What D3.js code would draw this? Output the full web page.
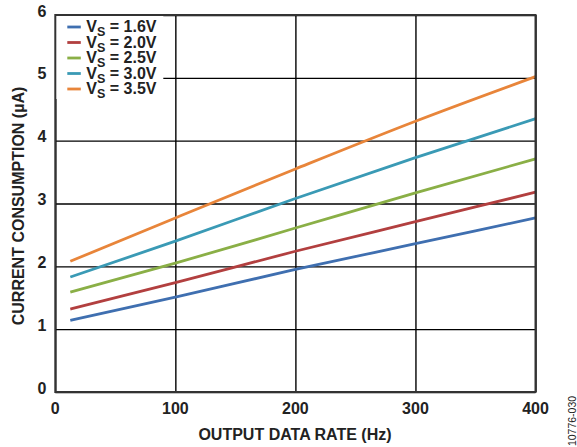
<!DOCTYPE html>
<html>
<head>
<meta charset="utf-8">
<script src="https://cdn.jsdelivr.net/npm/d3@7"></script>
<style>
  body { margin: 0; background: #fff; }
  text { font-family: "Liberation Sans", Arial, sans-serif; }
</style>
</head>
<body>
<svg width="577" height="447"></svg>
<script>
// Output data rate (Hz) sample points
var rates = [12.5, 100, 200, 300, 400];

// Current consumption (uA) per supply voltage
var vs16 = [1.14, 1.51, 1.95, 2.36, 2.77];
var vs20 = [1.32, 1.74, 2.24, 2.71, 3.18];
var vs25 = [1.59, 2.05, 2.61, 3.17, 3.71];
var vs30 = [1.83, 2.40, 3.08, 3.73, 4.35];
var vs35 = [2.08, 2.77, 3.55, 4.31, 5.02];

var seriesNames = ['1.6V', '2.0V', '2.5V', '3.0V', '3.5V'];
var seriesValues = [vs16, vs20, vs25, vs30, vs35];
var colors = ['#3f6fb0', '#b23f3f', '#8aaf46', '#3a9ab5', '#e8853a'];

var xTicks = [0, 100, 200, 300, 400];
var yTicks = [0, 1, 2, 3, 4, 5, 6];

var svg = d3.select('svg');
var padding = {t: 15, r: 41.5, b: 55, l: 55.3};
var chartWidth = 577 - padding.l - padding.r;
var chartHeight = 447 - padding.t - padding.b;

var xScale = d3.scaleLinear().domain([0, 400]).range([0, chartWidth]);
var yScale = d3.scaleLinear().domain([0, 6]).range([chartHeight, 0]);

var chartG = svg.append('g')
    .attr('transform', 'translate(' + [padding.l, padding.t] + ')');

// gridlines
chartG.append('g')
    .call(d3.axisBottom(xScale).tickValues(xTicks).tickSize(chartHeight).tickFormat(''))
    .call(function(g) {
        g.select('.domain').remove();
        g.selectAll('line').attr('stroke', '#000').attr('stroke-width', 1.4);
    });
chartG.append('g')
    .call(d3.axisLeft(yScale).tickValues(yTicks).tickSize(-chartWidth).tickFormat(''))
    .call(function(g) {
        g.select('.domain').remove();
        g.selectAll('line').attr('stroke', '#000').attr('stroke-width', 1.4);
    });

// lines
var line = d3.line()
    .x(function(d, i) { return xScale(rates[i]); })
    .y(function(d) { return yScale(d); })
    .curve(d3.curveMonotoneX);

chartG.selectAll('.series')
    .data(seriesValues)
    .enter()
    .append('path')
    .attr('class', 'series')
    .attr('fill', 'none')
    .attr('stroke', function(d, i) { return colors[i]; })
    .attr('stroke-width', 2.8)
    .attr('d', line);

// legend
var legendG = chartG.append('g');
legendG.append('rect')
    .attr('x', 0).attr('y', 0)
    .attr('width', 108).attr('height', 84)
    .attr('fill', '#fff');

var rows = legendG.selectAll('.leg')
    .data(seriesNames)
    .enter()
    .append('g')
    .attr('class', 'leg')
    .attr('transform', function(d, i) { return 'translate(' + [0, 12 + i * 15.5] + ')'; });

rows.append('line')
    .attr('x1', 12).attr('x2', 25.5)
    .attr('stroke', function(d, i) { return colors[i]; })
    .attr('stroke-width', 2.8);

var legText = rows.append('text')
    .attr('x', 31)
    .attr('dy', '0.33em')
    .attr('font-size', 16)
    .attr('font-weight', 'bold')
    .attr('fill', '#222');
legText.append('tspan').text('V');
legText.append('tspan').attr('font-size', 12.5).attr('dy', 4).text('S');
legText.append('tspan').attr('dy', -4).text(' = ');
legText.append('tspan').text(function(d) { return d; });

// border
chartG.append('rect')
    .attr('width', chartWidth)
    .attr('height', chartHeight)
    .attr('fill', 'none')
    .attr('stroke', '#333')
    .attr('stroke-width', 2);

// tick labels
chartG.selectAll('.xlab')
    .data(xTicks)
    .enter()
    .append('text')
    .attr('x', function(d) { return xScale(d); })
    .attr('y', chartHeight + 22)
    .attr('text-anchor', 'middle')
    .attr('font-size', 16)
    .attr('font-weight', 'bold')
    .attr('fill', '#222')
    .text(function(d) { return d; });

chartG.selectAll('.ylab')
    .data(yTicks)
    .enter()
    .append('text')
    .attr('x', -9)
    .attr('y', function(d) { return yScale(d); })
    .attr('dy', '0.1em')
    .attr('text-anchor', 'end')
    .attr('font-size', 16)
    .attr('font-weight', 'bold')
    .attr('fill', '#222')
    .text(function(d) { return d; });

// axis titles
svg.append('text')
    .attr('x', 295)
    .attr('y', 440)
    .attr('text-anchor', 'middle')
    .attr('font-size', 16)
    .attr('font-weight', 'bold')
    .attr('fill', '#222')
    .text('OUTPUT DATA RATE (Hz)');

svg.append('text')
    .attr('transform', 'translate(23.5,206) rotate(-90)')
    .attr('text-anchor', 'middle')
    .attr('font-size', 16)
    .attr('font-weight', 'bold')
    .attr('fill', '#222')
    .text('CURRENT CONSUMPTION (\u00B5A)');

svg.append('text')
    .attr('transform', 'translate(575.5,421) rotate(-90)')
    .attr('text-anchor', 'middle')
    .attr('font-size', 10.5)
    .attr('fill', '#222')
    .text('10776-030');
</script>
</body>
</html>
